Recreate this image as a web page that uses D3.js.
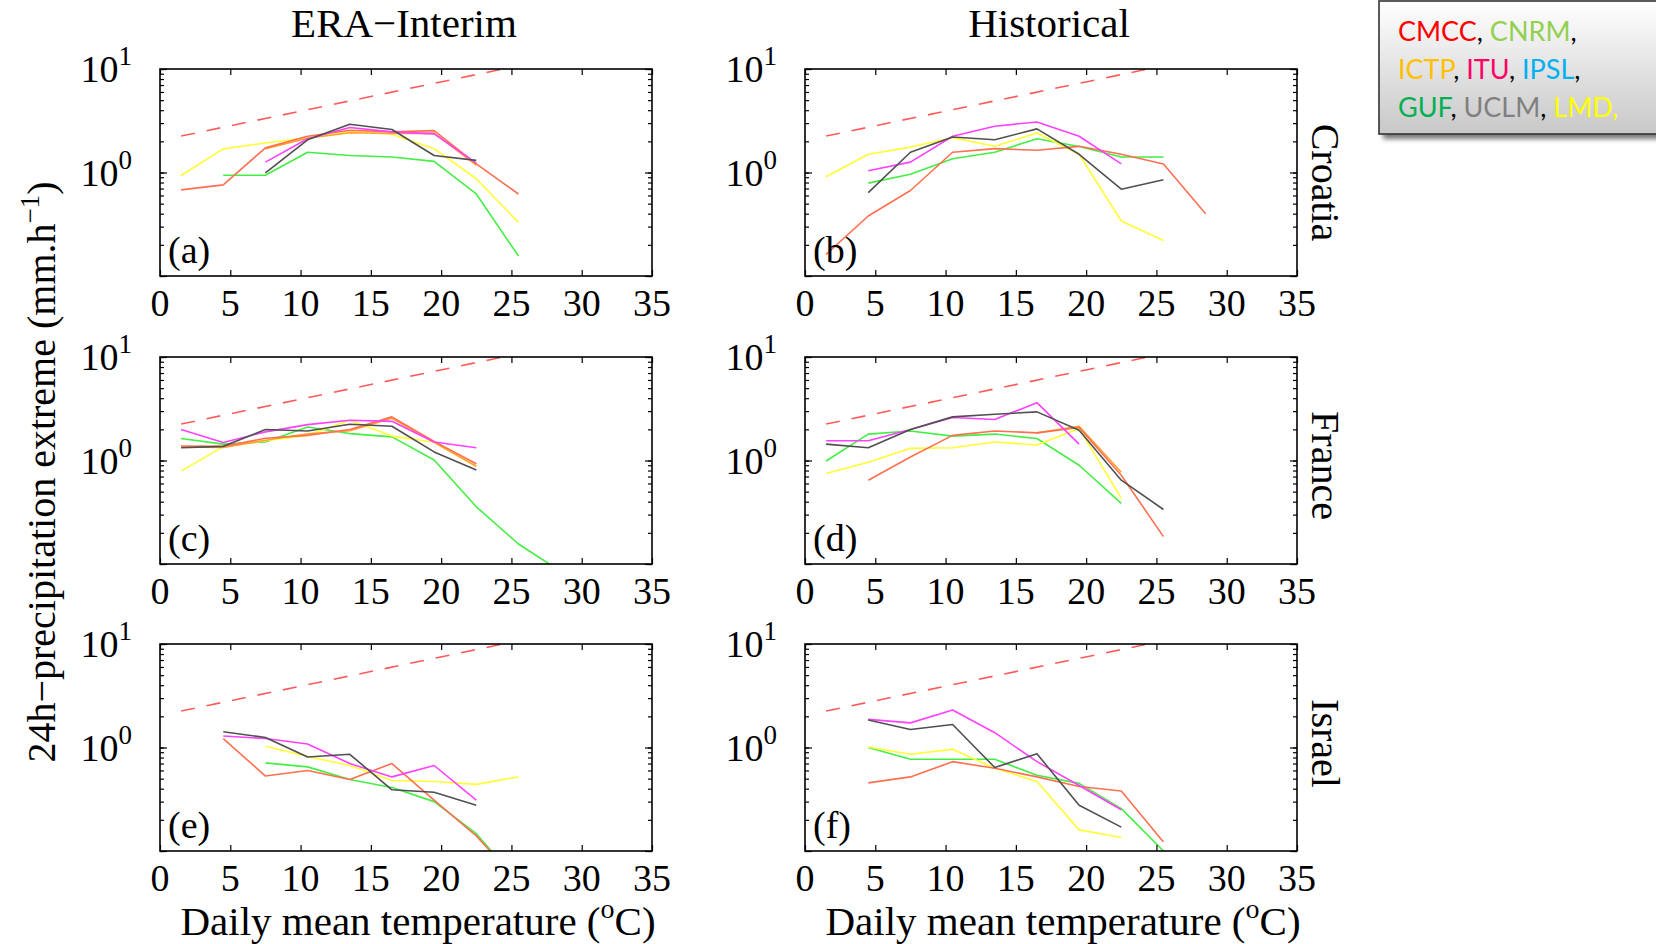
<!DOCTYPE html>
<html><head><meta charset="utf-8">
<script src="https://cdn.jsdelivr.net/npm/d3@7"></script>
<style>
body{margin:0;background:#fff}
svg{display:block}
text{font-family:"Liberation Serif","Times New Roman",serif;fill:#000}
</style>
</head><body><svg id="chart" width="1656" height="944"></svg>
<script>
// ---------- data ----------
const temps = [1.5, 4.5, 7.5, 10.5, 13.5, 16.5, 19.5, 22.5, 25.5, 28.5];
const xTickValues = [0, 5, 10, 15, 20, 25, 30, 35];
const yLabelExponents = [0, 1];
const columnTitles = ["ERA\u2212Interim", "Historical"];
const regions = ["Croatia", "France", "Israel"];
const panelLetters = ["(a)", "(b)", "(c)", "(d)", "(e)", "(f)"];
const ccTemps = [1.5, 24.4];
const ccValues = [2.25, 10];
const seriesNames = ["green", "yellow", "orange", "coral", "magenta", "gray"];

// panel (a) Croatia, ERA-Interim
const a_green   = [null, 0.94, 0.94, 1.57, 1.46, 1.41, 1.28, 0.62, 0.156, null];
const a_yellow  = [0.935, 1.69, 1.93, 2.17, 2.50, 2.34, 1.70, 0.87, 0.33, null];
const a_coral   = [0.68, 0.76, 1.73, 2.24, 2.56, 2.47, 2.54, 1.21, 0.62, null];
const a_orange  = [null, null, 1.70, 2.14, 2.42, 2.38, 2.40, 1.18, null, null];
const a_magenta = [null, null, 1.26, 2.12, 2.72, 2.47, 2.36, 1.23, null, null];
const a_gray    = [null, null, 0.99, 2.07, 2.93, 2.60, 1.46, 1.31, null, null];
// panel (b) Croatia, Historical
const b_green   = [null, 0.79, 0.96, 1.36, 1.57, 2.12, 1.78, 1.41, 1.41, null];
const b_yellow  = [0.91, 1.50, 1.76, 2.17, 1.79, 2.41, 1.50, 0.34, 0.22, null];
const b_coral   = [0.162, 0.38, 0.67, 1.57, 1.70, 1.64, 1.79, 1.50, 1.21, 0.40];
const b_orange  = [null, null, null, null, null, null, null, null, null, null];
const b_magenta = [null, 1.04, 1.26, 2.24, 2.80, 3.08, 2.24, 1.21, null, null];
const b_gray    = [null, 0.64, 1.57, 2.20, 2.07, 2.64, 1.50, 0.69, 0.85, null];
// panel (c) France, ERA-Interim
const c_green   = [1.63, 1.44, 1.51, 2.11, 1.82, 1.69, 1.01, 0.357, 0.156, 0.085];
const c_yellow  = [0.79, 1.36, 1.55, 1.75, 2.45, 1.72, 1.50, 0.88, null, null];
const c_coral   = [1.38, 1.37, 1.64, 1.75, 1.99, 2.64, 1.53, 0.93, null, null];
const c_orange  = [1.35, 1.34, 1.57, 1.81, 1.94, 2.56, 1.50, 0.88, null, null];
const c_magenta = [1.99, 1.49, 1.89, 2.22, 2.45, 2.39, 1.51, 1.33, null, null];
const c_gray    = [1.33, 1.37, 1.99, 1.93, 2.24, 2.14, 1.21, 0.81, null, null];
// panel (d) France, Historical
const d_green   = [0.99, 1.80, 1.93, 1.72, 1.80, 1.63, 0.90, 0.385, null, null];
const d_yellow  = [0.75, 0.96, 1.31, 1.33, 1.51, 1.41, 2.04, 0.43, null, null];
const d_coral   = [null, 0.645, 1.08, 1.75, 1.93, 1.85, 2.08, 0.72, 0.184, null];
const d_orange  = [null, null, null, null, null, 1.85, 2.14, 0.77, null, null];
const d_magenta = [1.55, 1.55, 1.99, 2.60, 2.49, 3.62, 1.44, null, null, null];
const d_gray    = [1.44, 1.33, 1.99, 2.64, 2.80, 2.95, 1.96, 0.645, 0.336, null];
// panel (e) Israel, ERA-Interim
const e_green   = [null, null, 0.71, 0.65, 0.49, 0.41, 0.30, 0.147, 0.05, null];
const e_yellow  = [null, null, 1.03, 0.82, 0.67, 0.48, 0.47, 0.44, 0.52, null];
const e_coral   = [null, 1.22, 0.53, 0.60, 0.49, 0.70, 0.31, 0.14, 0.05, null];
const e_orange  = [null, null, null, null, null, null, null, null, null, null];
const e_magenta = [null, 1.29, 1.22, 1.08, 0.70, 0.52, 0.67, 0.31, null, null];
const e_gray    = [null, 1.42, 1.25, 0.81, 0.86, 0.39, 0.37, 0.277, null, null];
// panel (f) Israel, Historical
const f_green   = [null, 1.0, 0.77, 0.77, 0.77, 0.54, 0.45, 0.257, 0.10, null];
const f_yellow  = [null, 1.01, 0.86, 0.96, 0.63, 0.47, 0.16, 0.135, null, null];
const f_coral   = [null, 0.455, 0.52, 0.73, 0.63, 0.52, 0.42, 0.38, 0.122, null];
const f_orange  = [null, null, null, null, null, null, null, null, null, null];
const f_magenta = [null, 1.87, 1.73, 2.30, 1.39, 0.73, 0.43, 0.25, null, null];
const f_gray    = [null, 1.84, 1.49, 1.67, 0.64, 0.87, 0.277, 0.17, null, null];

const legendRows = [
  [["CMCC","#ff0000"],[", ","#000"],["CNRM","#92d050"],[",","#000"]],
  [["ICTP","#ffc000"],[", ","#000"],["ITU","#ff0066"],[", ","#000"],["IPSL","#00b0f0"],[",","#000"]],
  [["GUF","#00b050"],[", ","#000"],["UCLM","#808080"],[", ","#000"],["LMD,","#ffff00"]]
];

// ---------- styles / layout ----------
const seriesColor = {green:"#44ee44", yellow:"#ffff33", coral:"#ff7050", orange:"#ffa030", magenta:"#ff40ff", gray:"#505050"};
const panels = [
  {row:0, col:0, data:{green:a_green, yellow:a_yellow, coral:a_coral, orange:a_orange, magenta:a_magenta, gray:a_gray}},
  {row:0, col:1, data:{green:b_green, yellow:b_yellow, coral:b_coral, orange:b_orange, magenta:b_magenta, gray:b_gray}},
  {row:1, col:0, data:{green:c_green, yellow:c_yellow, coral:c_coral, orange:c_orange, magenta:c_magenta, gray:c_gray}},
  {row:1, col:1, data:{green:d_green, yellow:d_yellow, coral:d_coral, orange:d_orange, magenta:d_magenta, gray:d_gray}},
  {row:2, col:0, data:{green:e_green, yellow:e_yellow, coral:e_coral, orange:e_orange, magenta:e_magenta, gray:e_gray}},
  {row:2, col:1, data:{green:f_green, yellow:f_yellow, coral:f_coral, orange:f_orange, magenta:f_magenta, gray:f_gray}}
];
const colLeft = [160, 805];
const rowTop = [69, 357, 644];
const regionOffset = [10, 5, -4];
const PW = 492, PH = 207;

const svg = d3.select("#chart");
const defs = svg.append("defs");

panels.forEach((p, i) => {
  const left = colLeft[p.col], top = rowTop[p.row];
  const x = d3.scaleLinear().domain([0, 35]).range([left, left + PW]);
  const y = d3.scaleLog().domain([0.1, 10]).range([top + PH, top]);
  const g = svg.append("g");
  const clipId = "clip" + i;
  defs.append("clipPath").attr("id", clipId).append("rect")
    .attr("x", left).attr("y", top).attr("width", PW).attr("height", PH);

  const plot = g.append("g").attr("clip-path", `url(#${clipId})`);
  // CC scaling line
  const ccLine = d3.line().x(d => x(d[0])).y(d => y(d[1]));
  plot.append("path").datum(ccTemps.map((t, k) => [t, ccValues[k]]))
    .attr("d", ccLine).attr("fill", "none").attr("stroke", "#ff5a5a")
    .attr("stroke-width", 1.6).attr("stroke-dasharray", "14,12");
  // model lines
  const line = d3.line().defined(d => d[1] != null).x(d => x(d[0])).y(d => y(d[1]));
  seriesNames.forEach(name => {
    const vals = p.data[name];
    const pts = temps.map((t, k) => [t, vals[k]]);
    plot.append("path").datum(pts).attr("d", line)
      .attr("fill", "none").attr("stroke", seriesColor[name])
      .attr("stroke-width", 1.6).attr("stroke-linejoin", "round");
  });

  // axes (ticks inward)
  const tickOpts = a => a.tickSizeOuter(0).tickFormat("");
  g.append("g").attr("transform", `translate(0,${top + PH})`)
    .call(tickOpts(d3.axisTop(x).tickValues(xTickValues).tickSize(6)));
  g.append("g").attr("transform", `translate(0,${top})`)
    .call(tickOpts(d3.axisBottom(x).tickValues(xTickValues).tickSize(6)));
  const minor = y.ticks();
  const major = [0.1, 1, 10];
  g.append("g").attr("transform", `translate(${left},0)`)
    .call(tickOpts(d3.axisRight(y).tickValues(minor).tickSize(4)));
  g.append("g").attr("transform", `translate(${left + PW},0)`)
    .call(tickOpts(d3.axisLeft(y).tickValues(minor).tickSize(4)));
  g.append("g").attr("transform", `translate(${left},0)`)
    .call(tickOpts(d3.axisRight(y).tickValues(major).tickSize(7)));
  g.append("g").attr("transform", `translate(${left + PW},0)`)
    .call(tickOpts(d3.axisLeft(y).tickValues(major).tickSize(7)));
  g.selectAll(".domain").remove();
  g.selectAll(".tick line").attr("stroke", "#000").attr("stroke-width", 1.2);
  g.append("rect").attr("x", left).attr("y", top).attr("width", PW).attr("height", PH)
    .attr("fill", "none").attr("stroke", "#000").attr("stroke-width", 1.6);

  // x tick labels
  g.selectAll(".xl").data(xTickValues).enter().append("text")
    .attr("x", d => x(d)).attr("y", top + PH + 40)
    .attr("text-anchor", "middle").attr("font-size", 38).text(d => d);
  // y tick labels 10^n
  yLabelExponents.forEach(e => {
    const t = g.append("text").attr("x", left - 28).attr("y", y(Math.pow(10, e)) + 13)
      .attr("text-anchor", "end").attr("font-size", 38);
    t.append("tspan").text("10");
    t.append("tspan").attr("font-size", 27).attr("dy", -17).text(String(e));
  });
  // panel letter
  g.append("text").attr("x", left + 8).attr("y", top + PH - 13)
    .attr("font-size", 38).text(panelLetters[i]);
});

// column titles and x labels
columnTitles.forEach((t, c) => {
  svg.append("text").attr("x", colLeft[c] + PW / 2 - 2).attr("y", 37)
    .attr("text-anchor", "middle").attr("font-size", 41).text(t);
  const xl = svg.append("text").attr("x", colLeft[c] + PW / 2 + 12).attr("y", 935)
    .attr("text-anchor", "middle").attr("font-size", 41);
  xl.append("tspan").text("Daily mean temperature (");
  xl.append("tspan").attr("font-size", 28).attr("dy", -17).text("o");
  xl.append("tspan").attr("dy", 17).text("C)");
});

// region labels (rotated)
regions.forEach((r, k) => {
  svg.append("text").attr("transform", `translate(1312,${rowTop[k] + PH / 2 + regionOffset[k]}) rotate(90)`)
    .attr("text-anchor", "middle").attr("font-size", 40).text(r);
});

// y axis label
const yl = svg.append("text").attr("transform", "translate(55,472) rotate(-90)")
  .attr("text-anchor", "middle").attr("font-size", 40);
yl.append("tspan").text("24h\u2212precipitation extreme (mm.h");
yl.append("tspan").attr("font-size", 27).attr("dy", -16).text("\u22121");
yl.append("tspan").attr("dy", 16).text(")");

// legend box
const grad = defs.append("linearGradient").attr("id", "lg").attr("x1", 0).attr("y1", 0).attr("x2", 0).attr("y2", 1);
grad.append("stop").attr("offset", "0%").attr("stop-color", "#ffffff");
grad.append("stop").attr("offset", "100%").attr("stop-color", "#c8c8c8");
const flt = defs.append("filter").attr("id", "sh").attr("x", "-10%").attr("y", "-10%").attr("width", "130%").attr("height", "140%");
flt.append("feGaussianBlur").attr("stdDeviation", 2.5);
svg.append("rect").attr("x", 1383).attr("y", 5).attr("width", 300).attr("height", 134)
  .attr("fill", "#777").attr("filter", "url(#sh)");
svg.append("rect").attr("x", 1379).attr("y", 1).attr("width", 300).attr("height", 133)
  .attr("fill", "url(#lg)").attr("stroke", "#333").attr("stroke-width", 1.6);
legendRows.forEach((row, k) => {
  const t = svg.append("text").attr("x", 1398).attr("y", 41 + k * 38)
    .style("font-family", "Lato, 'Open Sans', sans-serif").attr("font-size", 27);
  row.forEach(([s, c]) => t.append("tspan").attr("fill", c).style("fill", c).text(s));
});
</script>
</body></html>
